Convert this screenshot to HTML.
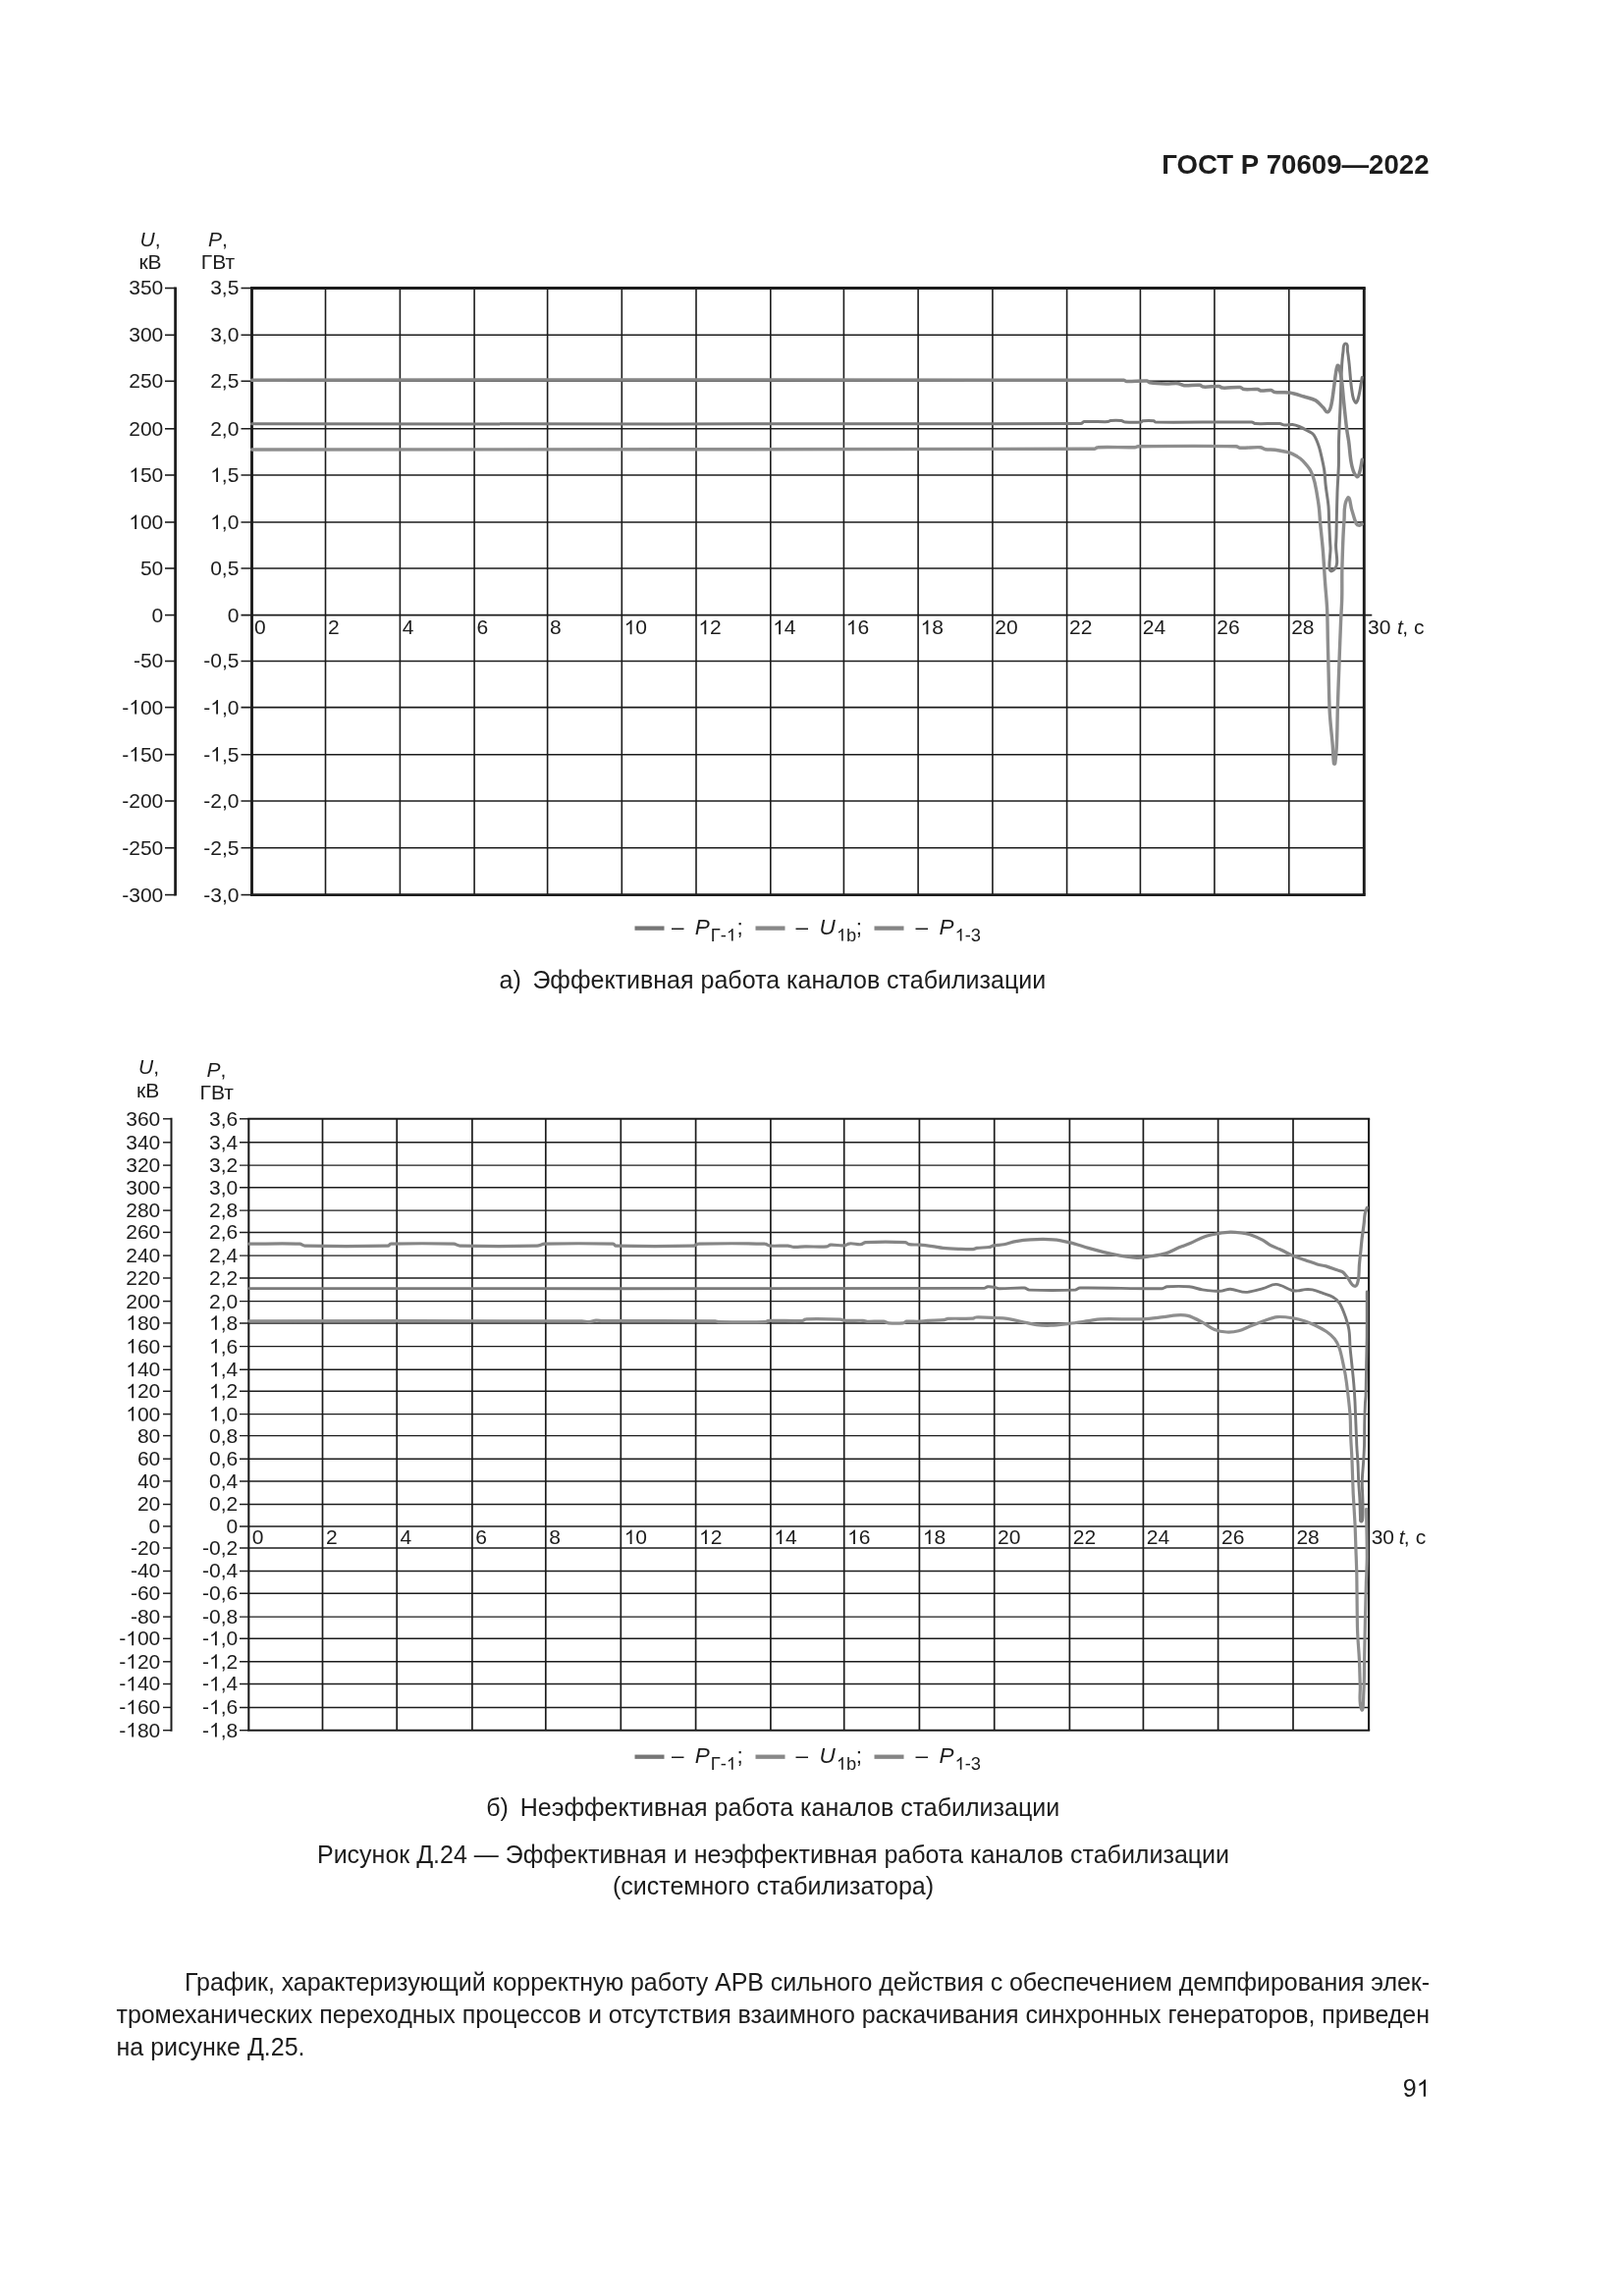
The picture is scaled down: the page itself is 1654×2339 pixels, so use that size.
<!DOCTYPE html>
<html><head><meta charset="utf-8"><title>ГОСТ Р 70609—2022</title>
<style>
html,body{margin:0;padding:0;background:#fff;}
body{width:1654px;height:2339px;overflow:hidden;}
svg{display:block;}
text{font-family:"Liberation Sans", sans-serif;fill:#1c1c1c;}
</style></head><body>
<svg width="1654" height="2339" viewBox="0 0 1654 2339">
<rect width="1654" height="2339" fill="#fff"/>
<line x1="245.50" y1="341.30" x2="1389.30" y2="341.30" stroke="#1c1c1c" stroke-width="1.6" stroke-linecap="butt"/>
<line x1="245.50" y1="388.30" x2="1389.30" y2="388.30" stroke="#1c1c1c" stroke-width="1.6" stroke-linecap="butt"/>
<line x1="245.50" y1="436.80" x2="1389.30" y2="436.80" stroke="#1c1c1c" stroke-width="1.6" stroke-linecap="butt"/>
<line x1="245.50" y1="484.00" x2="1389.30" y2="484.00" stroke="#1c1c1c" stroke-width="1.6" stroke-linecap="butt"/>
<line x1="245.50" y1="532.00" x2="1389.30" y2="532.00" stroke="#1c1c1c" stroke-width="1.6" stroke-linecap="butt"/>
<line x1="245.50" y1="579.00" x2="1389.30" y2="579.00" stroke="#1c1c1c" stroke-width="1.6" stroke-linecap="butt"/>
<line x1="245.50" y1="626.60" x2="1397.30" y2="626.60" stroke="#1c1c1c" stroke-width="1.6" stroke-linecap="butt"/>
<line x1="245.50" y1="673.50" x2="1389.30" y2="673.50" stroke="#1c1c1c" stroke-width="1.6" stroke-linecap="butt"/>
<line x1="245.50" y1="720.60" x2="1389.30" y2="720.60" stroke="#1c1c1c" stroke-width="1.6" stroke-linecap="butt"/>
<line x1="245.50" y1="768.70" x2="1389.30" y2="768.70" stroke="#1c1c1c" stroke-width="1.6" stroke-linecap="butt"/>
<line x1="245.50" y1="816.00" x2="1389.30" y2="816.00" stroke="#1c1c1c" stroke-width="1.6" stroke-linecap="butt"/>
<line x1="245.50" y1="863.80" x2="1389.30" y2="863.80" stroke="#1c1c1c" stroke-width="1.6" stroke-linecap="butt"/>
<line x1="245.50" y1="293.50" x2="256.50" y2="293.50" stroke="#1c1c1c" stroke-width="1.6" stroke-linecap="butt"/>
<line x1="245.50" y1="911.60" x2="256.50" y2="911.60" stroke="#1c1c1c" stroke-width="1.6" stroke-linecap="butt"/>
<line x1="331.50" y1="293.50" x2="331.50" y2="911.60" stroke="#1c1c1c" stroke-width="1.6" stroke-linecap="butt"/>
<line x1="407.40" y1="293.50" x2="407.40" y2="911.60" stroke="#1c1c1c" stroke-width="1.6" stroke-linecap="butt"/>
<line x1="483.10" y1="293.50" x2="483.10" y2="911.60" stroke="#1c1c1c" stroke-width="1.6" stroke-linecap="butt"/>
<line x1="557.60" y1="293.50" x2="557.60" y2="911.60" stroke="#1c1c1c" stroke-width="1.6" stroke-linecap="butt"/>
<line x1="633.30" y1="293.50" x2="633.30" y2="911.60" stroke="#1c1c1c" stroke-width="1.6" stroke-linecap="butt"/>
<line x1="709.00" y1="293.50" x2="709.00" y2="911.60" stroke="#1c1c1c" stroke-width="1.6" stroke-linecap="butt"/>
<line x1="784.80" y1="293.50" x2="784.80" y2="911.60" stroke="#1c1c1c" stroke-width="1.6" stroke-linecap="butt"/>
<line x1="859.40" y1="293.50" x2="859.40" y2="911.60" stroke="#1c1c1c" stroke-width="1.6" stroke-linecap="butt"/>
<line x1="935.10" y1="293.50" x2="935.10" y2="911.60" stroke="#1c1c1c" stroke-width="1.6" stroke-linecap="butt"/>
<line x1="1010.90" y1="293.50" x2="1010.90" y2="911.60" stroke="#1c1c1c" stroke-width="1.6" stroke-linecap="butt"/>
<line x1="1086.60" y1="293.50" x2="1086.60" y2="911.60" stroke="#1c1c1c" stroke-width="1.6" stroke-linecap="butt"/>
<line x1="1161.40" y1="293.50" x2="1161.40" y2="911.60" stroke="#1c1c1c" stroke-width="1.6" stroke-linecap="butt"/>
<line x1="1236.90" y1="293.50" x2="1236.90" y2="911.60" stroke="#1c1c1c" stroke-width="1.6" stroke-linecap="butt"/>
<line x1="1312.80" y1="293.50" x2="1312.80" y2="911.60" stroke="#1c1c1c" stroke-width="1.6" stroke-linecap="butt"/>
<line x1="255.05" y1="293.50" x2="1390.75" y2="293.50" stroke="#1c1c1c" stroke-width="2.9" stroke-linecap="butt"/>
<line x1="255.05" y1="911.60" x2="1390.75" y2="911.60" stroke="#1c1c1c" stroke-width="2.9" stroke-linecap="butt"/>
<line x1="256.50" y1="293.50" x2="256.50" y2="911.60" stroke="#1c1c1c" stroke-width="2.9" stroke-linecap="butt"/>
<line x1="1389.30" y1="293.50" x2="1389.30" y2="911.60" stroke="#1c1c1c" stroke-width="2.9" stroke-linecap="butt"/>
<line x1="178.60" y1="292.50" x2="178.60" y2="912.60" stroke="#1c1c1c" stroke-width="2.755" stroke-linecap="butt"/>
<line x1="168.00" y1="293.50" x2="178.60" y2="293.50" stroke="#1c1c1c" stroke-width="1.6" stroke-linecap="butt"/>
<line x1="168.00" y1="341.30" x2="178.60" y2="341.30" stroke="#1c1c1c" stroke-width="1.6" stroke-linecap="butt"/>
<line x1="168.00" y1="388.30" x2="178.60" y2="388.30" stroke="#1c1c1c" stroke-width="1.6" stroke-linecap="butt"/>
<line x1="168.00" y1="436.80" x2="178.60" y2="436.80" stroke="#1c1c1c" stroke-width="1.6" stroke-linecap="butt"/>
<line x1="168.00" y1="484.00" x2="178.60" y2="484.00" stroke="#1c1c1c" stroke-width="1.6" stroke-linecap="butt"/>
<line x1="168.00" y1="532.00" x2="178.60" y2="532.00" stroke="#1c1c1c" stroke-width="1.6" stroke-linecap="butt"/>
<line x1="168.00" y1="579.00" x2="178.60" y2="579.00" stroke="#1c1c1c" stroke-width="1.6" stroke-linecap="butt"/>
<line x1="168.00" y1="626.60" x2="178.60" y2="626.60" stroke="#1c1c1c" stroke-width="1.6" stroke-linecap="butt"/>
<line x1="168.00" y1="673.50" x2="178.60" y2="673.50" stroke="#1c1c1c" stroke-width="1.6" stroke-linecap="butt"/>
<line x1="168.00" y1="720.60" x2="178.60" y2="720.60" stroke="#1c1c1c" stroke-width="1.6" stroke-linecap="butt"/>
<line x1="168.00" y1="768.70" x2="178.60" y2="768.70" stroke="#1c1c1c" stroke-width="1.6" stroke-linecap="butt"/>
<line x1="168.00" y1="816.00" x2="178.60" y2="816.00" stroke="#1c1c1c" stroke-width="1.6" stroke-linecap="butt"/>
<line x1="168.00" y1="863.80" x2="178.60" y2="863.80" stroke="#1c1c1c" stroke-width="1.6" stroke-linecap="butt"/>
<line x1="168.00" y1="911.60" x2="178.60" y2="911.60" stroke="#1c1c1c" stroke-width="1.6" stroke-linecap="butt"/>
<line x1="244.00" y1="1163.80" x2="1394.10" y2="1163.80" stroke="#1c1c1c" stroke-width="1.45" stroke-linecap="butt"/>
<line x1="244.00" y1="1187.10" x2="1394.10" y2="1187.10" stroke="#1c1c1c" stroke-width="1.45" stroke-linecap="butt"/>
<line x1="244.00" y1="1209.80" x2="1394.10" y2="1209.80" stroke="#1c1c1c" stroke-width="1.45" stroke-linecap="butt"/>
<line x1="244.00" y1="1233.10" x2="1394.10" y2="1233.10" stroke="#1c1c1c" stroke-width="1.45" stroke-linecap="butt"/>
<line x1="244.00" y1="1255.40" x2="1394.10" y2="1255.40" stroke="#1c1c1c" stroke-width="1.45" stroke-linecap="butt"/>
<line x1="244.00" y1="1279.10" x2="1394.10" y2="1279.10" stroke="#1c1c1c" stroke-width="1.45" stroke-linecap="butt"/>
<line x1="244.00" y1="1302.00" x2="1394.10" y2="1302.00" stroke="#1c1c1c" stroke-width="1.45" stroke-linecap="butt"/>
<line x1="244.00" y1="1325.60" x2="1394.10" y2="1325.60" stroke="#1c1c1c" stroke-width="1.45" stroke-linecap="butt"/>
<line x1="244.00" y1="1347.90" x2="1394.10" y2="1347.90" stroke="#1c1c1c" stroke-width="1.45" stroke-linecap="butt"/>
<line x1="244.00" y1="1371.60" x2="1394.10" y2="1371.60" stroke="#1c1c1c" stroke-width="1.45" stroke-linecap="butt"/>
<line x1="244.00" y1="1395.30" x2="1394.10" y2="1395.30" stroke="#1c1c1c" stroke-width="1.45" stroke-linecap="butt"/>
<line x1="244.00" y1="1417.30" x2="1394.10" y2="1417.30" stroke="#1c1c1c" stroke-width="1.45" stroke-linecap="butt"/>
<line x1="244.00" y1="1440.60" x2="1394.10" y2="1440.60" stroke="#1c1c1c" stroke-width="1.45" stroke-linecap="butt"/>
<line x1="244.00" y1="1462.60" x2="1394.10" y2="1462.60" stroke="#1c1c1c" stroke-width="1.45" stroke-linecap="butt"/>
<line x1="244.00" y1="1486.20" x2="1394.10" y2="1486.20" stroke="#1c1c1c" stroke-width="1.45" stroke-linecap="butt"/>
<line x1="244.00" y1="1508.90" x2="1394.10" y2="1508.90" stroke="#1c1c1c" stroke-width="1.45" stroke-linecap="butt"/>
<line x1="244.00" y1="1532.50" x2="1394.10" y2="1532.50" stroke="#1c1c1c" stroke-width="1.45" stroke-linecap="butt"/>
<line x1="244.00" y1="1554.90" x2="1394.10" y2="1554.90" stroke="#1c1c1c" stroke-width="1.45" stroke-linecap="butt"/>
<line x1="244.00" y1="1577.00" x2="1394.10" y2="1577.00" stroke="#1c1c1c" stroke-width="1.45" stroke-linecap="butt"/>
<line x1="244.00" y1="1600.50" x2="1394.10" y2="1600.50" stroke="#1c1c1c" stroke-width="1.45" stroke-linecap="butt"/>
<line x1="244.00" y1="1623.20" x2="1394.10" y2="1623.20" stroke="#1c1c1c" stroke-width="1.45" stroke-linecap="butt"/>
<line x1="244.00" y1="1647.10" x2="1394.10" y2="1647.10" stroke="#1c1c1c" stroke-width="1.45" stroke-linecap="butt"/>
<line x1="244.00" y1="1669.30" x2="1394.10" y2="1669.30" stroke="#1c1c1c" stroke-width="1.45" stroke-linecap="butt"/>
<line x1="244.00" y1="1692.80" x2="1394.10" y2="1692.80" stroke="#1c1c1c" stroke-width="1.45" stroke-linecap="butt"/>
<line x1="244.00" y1="1715.50" x2="1394.10" y2="1715.50" stroke="#1c1c1c" stroke-width="1.45" stroke-linecap="butt"/>
<line x1="244.00" y1="1739.40" x2="1394.10" y2="1739.40" stroke="#1c1c1c" stroke-width="1.45" stroke-linecap="butt"/>
<line x1="244.00" y1="1139.80" x2="253.30" y2="1139.80" stroke="#1c1c1c" stroke-width="1.45" stroke-linecap="butt"/>
<line x1="244.00" y1="1762.70" x2="253.30" y2="1762.70" stroke="#1c1c1c" stroke-width="1.45" stroke-linecap="butt"/>
<line x1="328.50" y1="1139.80" x2="328.50" y2="1762.70" stroke="#1c1c1c" stroke-width="1.7" stroke-linecap="butt"/>
<line x1="404.20" y1="1139.80" x2="404.20" y2="1762.70" stroke="#1c1c1c" stroke-width="1.7" stroke-linecap="butt"/>
<line x1="480.90" y1="1139.80" x2="480.90" y2="1762.70" stroke="#1c1c1c" stroke-width="1.7" stroke-linecap="butt"/>
<line x1="555.80" y1="1139.80" x2="555.80" y2="1762.70" stroke="#1c1c1c" stroke-width="1.7" stroke-linecap="butt"/>
<line x1="632.30" y1="1139.80" x2="632.30" y2="1762.70" stroke="#1c1c1c" stroke-width="1.7" stroke-linecap="butt"/>
<line x1="708.60" y1="1139.80" x2="708.60" y2="1762.70" stroke="#1c1c1c" stroke-width="1.7" stroke-linecap="butt"/>
<line x1="784.90" y1="1139.80" x2="784.90" y2="1762.70" stroke="#1c1c1c" stroke-width="1.7" stroke-linecap="butt"/>
<line x1="859.70" y1="1139.80" x2="859.70" y2="1762.70" stroke="#1c1c1c" stroke-width="1.7" stroke-linecap="butt"/>
<line x1="936.40" y1="1139.80" x2="936.40" y2="1762.70" stroke="#1c1c1c" stroke-width="1.7" stroke-linecap="butt"/>
<line x1="1012.70" y1="1139.80" x2="1012.70" y2="1762.70" stroke="#1c1c1c" stroke-width="1.7" stroke-linecap="butt"/>
<line x1="1089.40" y1="1139.80" x2="1089.40" y2="1762.70" stroke="#1c1c1c" stroke-width="1.7" stroke-linecap="butt"/>
<line x1="1164.40" y1="1139.80" x2="1164.40" y2="1762.70" stroke="#1c1c1c" stroke-width="1.7" stroke-linecap="butt"/>
<line x1="1240.60" y1="1139.80" x2="1240.60" y2="1762.70" stroke="#1c1c1c" stroke-width="1.7" stroke-linecap="butt"/>
<line x1="1317.00" y1="1139.80" x2="1317.00" y2="1762.70" stroke="#1c1c1c" stroke-width="1.7" stroke-linecap="butt"/>
<line x1="252.25" y1="1139.80" x2="1395.15" y2="1139.80" stroke="#1c1c1c" stroke-width="2.1" stroke-linecap="butt"/>
<line x1="252.25" y1="1762.70" x2="1395.15" y2="1762.70" stroke="#1c1c1c" stroke-width="2.1" stroke-linecap="butt"/>
<line x1="253.30" y1="1139.80" x2="253.30" y2="1762.70" stroke="#1c1c1c" stroke-width="2.1" stroke-linecap="butt"/>
<line x1="1394.10" y1="1139.80" x2="1394.10" y2="1762.70" stroke="#1c1c1c" stroke-width="2.1" stroke-linecap="butt"/>
<line x1="174.50" y1="1138.80" x2="174.50" y2="1763.70" stroke="#1c1c1c" stroke-width="1.9949999999999999" stroke-linecap="butt"/>
<line x1="166.00" y1="1139.80" x2="174.50" y2="1139.80" stroke="#1c1c1c" stroke-width="1.45" stroke-linecap="butt"/>
<line x1="166.00" y1="1163.80" x2="174.50" y2="1163.80" stroke="#1c1c1c" stroke-width="1.45" stroke-linecap="butt"/>
<line x1="166.00" y1="1187.10" x2="174.50" y2="1187.10" stroke="#1c1c1c" stroke-width="1.45" stroke-linecap="butt"/>
<line x1="166.00" y1="1209.80" x2="174.50" y2="1209.80" stroke="#1c1c1c" stroke-width="1.45" stroke-linecap="butt"/>
<line x1="166.00" y1="1233.10" x2="174.50" y2="1233.10" stroke="#1c1c1c" stroke-width="1.45" stroke-linecap="butt"/>
<line x1="166.00" y1="1255.40" x2="174.50" y2="1255.40" stroke="#1c1c1c" stroke-width="1.45" stroke-linecap="butt"/>
<line x1="166.00" y1="1279.10" x2="174.50" y2="1279.10" stroke="#1c1c1c" stroke-width="1.45" stroke-linecap="butt"/>
<line x1="166.00" y1="1302.00" x2="174.50" y2="1302.00" stroke="#1c1c1c" stroke-width="1.45" stroke-linecap="butt"/>
<line x1="166.00" y1="1325.60" x2="174.50" y2="1325.60" stroke="#1c1c1c" stroke-width="1.45" stroke-linecap="butt"/>
<line x1="166.00" y1="1347.90" x2="174.50" y2="1347.90" stroke="#1c1c1c" stroke-width="1.45" stroke-linecap="butt"/>
<line x1="166.00" y1="1371.60" x2="174.50" y2="1371.60" stroke="#1c1c1c" stroke-width="1.45" stroke-linecap="butt"/>
<line x1="166.00" y1="1395.30" x2="174.50" y2="1395.30" stroke="#1c1c1c" stroke-width="1.45" stroke-linecap="butt"/>
<line x1="166.00" y1="1417.30" x2="174.50" y2="1417.30" stroke="#1c1c1c" stroke-width="1.45" stroke-linecap="butt"/>
<line x1="166.00" y1="1440.60" x2="174.50" y2="1440.60" stroke="#1c1c1c" stroke-width="1.45" stroke-linecap="butt"/>
<line x1="166.00" y1="1462.60" x2="174.50" y2="1462.60" stroke="#1c1c1c" stroke-width="1.45" stroke-linecap="butt"/>
<line x1="166.00" y1="1486.20" x2="174.50" y2="1486.20" stroke="#1c1c1c" stroke-width="1.45" stroke-linecap="butt"/>
<line x1="166.00" y1="1508.90" x2="174.50" y2="1508.90" stroke="#1c1c1c" stroke-width="1.45" stroke-linecap="butt"/>
<line x1="166.00" y1="1532.50" x2="174.50" y2="1532.50" stroke="#1c1c1c" stroke-width="1.45" stroke-linecap="butt"/>
<line x1="166.00" y1="1554.90" x2="174.50" y2="1554.90" stroke="#1c1c1c" stroke-width="1.45" stroke-linecap="butt"/>
<line x1="166.00" y1="1577.00" x2="174.50" y2="1577.00" stroke="#1c1c1c" stroke-width="1.45" stroke-linecap="butt"/>
<line x1="166.00" y1="1600.50" x2="174.50" y2="1600.50" stroke="#1c1c1c" stroke-width="1.45" stroke-linecap="butt"/>
<line x1="166.00" y1="1623.20" x2="174.50" y2="1623.20" stroke="#1c1c1c" stroke-width="1.45" stroke-linecap="butt"/>
<line x1="166.00" y1="1647.10" x2="174.50" y2="1647.10" stroke="#1c1c1c" stroke-width="1.45" stroke-linecap="butt"/>
<line x1="166.00" y1="1669.30" x2="174.50" y2="1669.30" stroke="#1c1c1c" stroke-width="1.45" stroke-linecap="butt"/>
<line x1="166.00" y1="1692.80" x2="174.50" y2="1692.80" stroke="#1c1c1c" stroke-width="1.45" stroke-linecap="butt"/>
<line x1="166.00" y1="1715.50" x2="174.50" y2="1715.50" stroke="#1c1c1c" stroke-width="1.45" stroke-linecap="butt"/>
<line x1="166.00" y1="1739.40" x2="174.50" y2="1739.40" stroke="#1c1c1c" stroke-width="1.45" stroke-linecap="butt"/>
<line x1="166.00" y1="1762.70" x2="174.50" y2="1762.70" stroke="#1c1c1c" stroke-width="1.45" stroke-linecap="butt"/>
<path d="M256.5,458.0 C539.8,457.7 831.7,458.0 1115.0,457.2 C1116.1,457.2 1116.9,455.7 1118.0,455.7 C1130.5,455.2 1143.5,456.0 1156.0,455.7 C1157.0,455.7 1158.0,454.7 1159.0,454.7 C1192.0,454.4 1226.1,454.2 1259.1,454.7 C1260.5,454.7 1261.6,456.1 1263.0,456.2 C1269.8,456.5 1276.9,455.3 1283.7,455.7 C1285.5,455.8 1286.9,457.4 1288.7,457.7 C1291.9,458.2 1295.3,457.8 1298.5,458.2 C1303.4,458.9 1308.5,459.7 1313.3,461.1 C1316.1,461.9 1318.7,463.6 1321.2,465.1 C1323.1,466.2 1325.0,467.5 1326.5,469.1 C1329.5,472.3 1332.7,475.7 1334.8,479.5 C1336.8,483.1 1338.1,487.3 1339.0,491.4 C1340.8,499.3 1342.1,507.6 1343.2,515.7 C1344.0,521.2 1344.1,527.0 1344.6,532.5 C1345.5,541.9 1346.6,551.6 1347.4,561.0 C1348.2,571.4 1348.8,582.0 1349.5,592.4 C1350.1,601.5 1351.2,610.9 1351.6,620.0 C1352.1,630.4 1352.1,641.0 1352.3,651.4 C1352.6,662.3 1352.8,673.5 1353.1,684.4 C1353.5,698.1 1353.5,712.2 1354.3,725.8 C1354.9,736.7 1356.3,748.0 1357.2,758.9 C1357.7,765.2 1357.7,771.7 1358.5,777.9 C1358.6,778.3 1359.6,778.3 1359.7,777.9 C1360.6,771.7 1361.1,765.2 1361.4,758.9 C1362.0,746.1 1362.0,732.8 1362.4,720.0 C1362.8,706.8 1363.3,693.2 1363.8,680.0 C1364.3,665.1 1364.9,649.8 1365.5,635.0 C1365.8,626.7 1366.5,618.3 1366.7,610.0 C1367.0,599.6 1366.6,588.9 1366.9,578.5 C1367.4,562.4 1367.7,545.8 1369.0,529.7 C1369.6,522.3 1368.1,513.4 1372.5,507.4 C1374.9,504.1 1375.4,515.3 1376.7,519.2 C1378.3,524.0 1379.3,529.3 1381.5,533.9 C1381.9,534.8 1383.3,535.3 1384.3,535.3 C1385.3,535.3 1386.2,534.4 1387.1,533.9" fill="none" stroke="#8e8e8e" stroke-width="3.4" stroke-linejoin="round" stroke-linecap="round"/>
<path d="M256.5,431.8 C535.2,431.7 822.3,432.3 1101.0,431.6 C1102.2,431.6 1102.8,429.7 1104.0,429.6 C1112.1,429.0 1120.6,429.9 1128.7,429.6 C1129.5,429.6 1130.2,428.7 1131.0,428.6 C1134.6,428.3 1138.4,428.3 1142.0,428.6 C1143.4,428.7 1144.6,429.9 1146.0,430.0 C1151.3,430.4 1156.7,430.4 1162.0,430.0 C1162.8,429.9 1163.2,428.9 1164.0,428.8 C1167.6,428.5 1171.4,428.4 1175.0,428.8 C1175.8,428.9 1176.2,430.1 1177.0,430.1 C1209.3,430.5 1242.6,429.6 1274.9,430.1 C1276.3,430.1 1277.4,431.5 1278.8,431.6 C1286.9,432.0 1295.3,431.2 1303.4,431.6 C1305.1,431.7 1306.7,433.0 1308.4,433.1 C1311.0,433.3 1313.7,432.4 1316.3,432.6 C1318.7,432.8 1321.0,433.6 1323.2,434.5 C1326.2,435.7 1329.2,437.4 1332.0,439.0 C1334.0,440.2 1336.5,441.0 1337.9,442.9 C1340.2,446.1 1341.6,450.0 1342.9,453.7 C1344.2,457.2 1345.0,461.0 1345.8,464.6 C1346.9,469.5 1348.1,474.5 1348.8,479.5 C1349.5,484.5 1349.6,489.8 1350.2,494.8 C1351.0,501.7 1352.4,508.8 1353.0,515.7 C1353.5,521.2 1353.4,527.0 1353.7,532.5 C1354.1,540.8 1354.4,549.3 1355.0,557.6 C1355.6,565.4 1350.8,585.5 1357.5,581.3 C1365.2,576.5 1359.9,563.1 1360.6,554.1 C1361.2,546.1 1361.1,537.8 1361.3,529.7 C1361.5,520.5 1361.7,511.0 1362.0,501.8 C1362.3,492.6 1363.1,483.1 1363.4,473.9 C1363.6,466.0 1363.3,457.9 1363.5,450.0 C1363.9,436.1 1364.8,421.9 1365.3,408.0 C1365.7,397.6 1365.8,387.0 1366.4,376.6 C1366.7,370.4 1367.1,364.1 1368.0,358.0 C1368.4,355.2 1367.7,349.9 1370.5,349.9 C1373.3,349.9 1372.0,355.3 1372.5,358.0 C1373.3,362.4 1373.7,367.0 1374.2,371.4 C1375.1,380.0 1375.4,389.0 1376.8,397.5 C1377.5,401.7 1377.6,406.8 1380.5,410.0 C1381.8,411.4 1383.0,406.9 1383.5,405.0 C1385.3,398.3 1386.0,391.2 1387.3,384.4" fill="none" stroke="#7a7a7a" stroke-width="3.0" stroke-linejoin="round" stroke-linecap="round"/>
<path d="M256.5,387.2 C549.5,387.2 851.4,386.8 1144.4,387.2 C1145.5,387.2 1146.3,388.5 1147.4,388.5 C1154.2,388.7 1161.2,387.7 1168.0,388.0 C1169.1,388.1 1169.9,389.5 1171.0,389.7 C1176.5,390.5 1182.2,390.8 1187.8,391.0 C1191.8,391.1 1196.0,390.3 1200.0,390.7 C1202.0,390.9 1203.8,392.6 1205.9,392.7 C1211.1,393.1 1216.5,391.8 1221.7,392.2 C1223.1,392.3 1224.2,394.0 1225.6,394.1 C1230.8,394.5 1236.2,393.3 1241.4,393.6 C1242.8,393.7 1243.9,395.0 1245.3,395.1 C1251.1,395.4 1257.2,394.2 1263.0,394.6 C1264.5,394.7 1265.5,396.4 1267.0,396.6 C1271.5,397.1 1276.3,396.2 1280.8,396.6 C1282.2,396.7 1283.3,398.0 1284.7,398.1 C1288.0,398.3 1291.3,397.2 1294.6,397.6 C1296.0,397.8 1297.1,399.4 1298.5,399.6 C1303.3,400.2 1308.5,399.3 1313.3,400.0 C1318.3,400.7 1323.3,402.6 1328.1,404.0 C1332.0,405.2 1336.3,405.9 1339.9,407.9 C1343.0,409.7 1345.2,412.8 1347.8,415.3 C1349.3,416.7 1350.2,420.3 1352.2,419.8 C1354.6,419.2 1355.1,415.7 1355.7,413.3 C1357.2,407.2 1357.7,400.8 1358.6,394.6 C1359.3,389.8 1359.7,384.8 1360.5,380.0 C1360.9,377.5 1361.2,374.8 1362.2,372.4 C1362.4,372.0 1363.4,372.5 1363.5,373.0 C1364.8,377.5 1365.7,382.3 1366.4,387.0 C1367.4,393.9 1367.8,401.1 1368.5,408.0 C1369.5,417.5 1370.4,427.2 1371.6,436.7 C1372.1,441.1 1373.1,445.6 1373.7,450.0 C1374.8,457.9 1374.9,466.2 1376.7,473.9 C1377.7,478.0 1378.6,483.0 1382.0,485.5 C1383.7,486.7 1384.4,482.0 1385.0,480.0 C1386.2,476.2 1386.5,472.2 1387.3,468.3" fill="none" stroke="#858585" stroke-width="3.5" stroke-linejoin="round" stroke-linecap="round"/>
<path d="M253.7,1345.8 C365.6,1345.8 480.8,1345.5 592.7,1345.8 C595.1,1345.8 597.6,1346.7 600.0,1346.6 C602.4,1346.5 604.7,1345.4 607.0,1345.2 C609.2,1345.0 611.4,1345.6 613.6,1345.6 C651.5,1345.8 690.6,1345.4 728.5,1345.8 C729.8,1345.8 730.9,1346.7 732.2,1346.7 C747.6,1347.0 763.6,1347.1 779.0,1346.7 C780.3,1346.7 781.4,1345.4 782.7,1345.4 C794.1,1345.0 805.8,1345.9 817.2,1345.4 C818.5,1345.3 819.6,1343.8 820.9,1343.8 C832.4,1343.4 844.2,1343.7 855.7,1344.1 C857.4,1344.2 858.9,1345.2 860.6,1345.3 C866.7,1345.6 873.0,1345.1 879.1,1345.3 C880.4,1345.4 881.5,1346.1 882.8,1346.2 C888.5,1346.4 894.3,1345.8 900.0,1346.2 C901.7,1346.3 903.3,1347.7 905.0,1347.8 C909.9,1348.2 914.9,1348.2 919.8,1347.8 C921.1,1347.7 922.1,1346.3 923.4,1346.2 C927.5,1345.8 931.7,1346.4 935.8,1346.2 C938.7,1346.1 941.6,1345.5 944.4,1345.3 C950.1,1345.0 955.9,1345.2 961.6,1344.7 C962.9,1344.6 964.0,1343.5 965.3,1343.4 C973.8,1343.0 982.7,1343.6 991.2,1343.2 C992.1,1343.2 992.7,1342.0 993.6,1342.0 C999.7,1341.8 1006.0,1342.2 1012.1,1342.5 C1016.7,1342.7 1021.4,1342.8 1026.0,1343.4 C1030.9,1344.1 1035.9,1345.5 1040.8,1346.5 C1045.7,1347.5 1050.6,1349.0 1055.6,1349.6 C1060.4,1350.2 1065.4,1350.4 1070.3,1350.2 C1076.4,1350.0 1082.7,1349.1 1088.8,1348.4 C1095.3,1347.6 1102.0,1346.6 1108.5,1345.7 C1112.6,1345.1 1116.7,1343.9 1120.8,1343.8 C1135.0,1343.3 1149.7,1344.3 1163.9,1343.8 C1170.9,1343.6 1178.0,1342.4 1184.9,1341.6 C1189.4,1341.1 1193.9,1340.0 1198.4,1339.8 C1202.2,1339.6 1206.2,1339.4 1209.9,1340.4 C1215.0,1341.8 1219.9,1344.6 1224.6,1347.1 C1228.8,1349.3 1232.5,1352.7 1236.9,1354.5 C1240.8,1356.1 1245.1,1356.8 1249.3,1357.0 C1253.4,1357.2 1257.6,1356.8 1261.6,1355.8 C1265.8,1354.7 1269.8,1352.4 1273.9,1350.8 C1278.0,1349.2 1282.1,1347.3 1286.2,1345.9 C1291.0,1344.3 1295.9,1342.1 1301.0,1341.6 C1306.3,1341.1 1311.8,1342.0 1317.0,1342.8 C1321.1,1343.4 1325.3,1344.6 1329.3,1345.9 C1332.6,1347.0 1336.0,1348.5 1339.1,1350.0 C1343.2,1352.0 1347.5,1354.1 1351.3,1356.7 C1354.2,1358.7 1357.1,1361.2 1359.3,1364.0 C1361.4,1366.7 1363.0,1370.0 1364.1,1373.2 C1365.8,1378.1 1366.7,1383.4 1367.8,1388.4 C1368.7,1392.4 1369.5,1396.5 1370.2,1400.6 C1371.2,1406.6 1372.0,1412.8 1372.7,1418.9 C1373.6,1426.6 1374.6,1434.5 1375.1,1442.2 C1375.6,1449.2 1375.4,1456.5 1375.7,1463.5 C1376.0,1471.6 1376.7,1479.8 1377.0,1487.9 C1377.5,1499.0 1377.7,1510.4 1378.2,1521.5 C1378.7,1531.6 1379.5,1541.9 1380.0,1552.0 C1380.4,1560.4 1380.6,1569.0 1380.9,1577.4 C1381.2,1586.0 1381.6,1595.0 1381.8,1603.6 C1382.0,1615.1 1382.0,1626.9 1382.2,1638.4 C1382.3,1647.0 1382.3,1655.9 1382.7,1664.5 C1383.1,1673.2 1384.0,1682.0 1384.4,1690.7 C1384.8,1699.3 1384.9,1708.2 1385.3,1716.8 C1385.7,1724.9 1383.6,1733.7 1386.6,1741.2 C1388.6,1746.1 1388.5,1730.7 1388.8,1725.5 C1389.5,1714.0 1389.4,1702.2 1389.6,1690.7 C1389.9,1676.3 1390.2,1661.5 1390.5,1647.1 C1390.8,1635.6 1391.1,1623.8 1391.4,1612.3 C1391.7,1603.7 1392.3,1594.8 1392.3,1586.1 C1392.3,1570.0 1391.8,1553.4 1391.6,1537.3" fill="none" stroke="#8e8e8e" stroke-width="3.2" stroke-linejoin="round" stroke-linecap="round"/>
<path d="M253.7,1312.6 C500.7,1312.5 755.3,1313.0 1002.3,1312.4 C1003.6,1312.4 1004.7,1311.0 1006.0,1310.8 C1008.0,1310.6 1010.1,1310.9 1012.1,1311.2 C1013.9,1311.5 1015.6,1312.7 1017.4,1312.7 C1025.9,1312.9 1034.8,1311.6 1043.3,1312.0 C1045.1,1312.1 1046.4,1314.0 1048.2,1314.1 C1063.6,1314.7 1079.6,1314.7 1095.0,1314.1 C1096.8,1314.0 1098.1,1312.0 1099.9,1312.0 C1127.5,1311.6 1156.0,1313.1 1183.6,1312.7 C1185.4,1312.7 1186.8,1310.9 1188.6,1310.8 C1196.0,1310.3 1203.7,1310.2 1211.1,1310.8 C1215.7,1311.2 1220.1,1313.1 1224.6,1313.9 C1228.2,1314.5 1232.0,1314.9 1235.7,1315.1 C1238.5,1315.3 1241.5,1315.4 1244.3,1315.1 C1247.2,1314.8 1250.1,1313.1 1253.0,1313.3 C1258.4,1313.6 1263.6,1316.5 1269.0,1316.4 C1274.8,1316.3 1280.6,1314.2 1286.2,1312.7 C1290.8,1311.5 1295.1,1308.1 1299.8,1308.4 C1305.4,1308.7 1310.4,1312.9 1315.8,1314.5 C1317.7,1315.1 1319.9,1315.0 1321.9,1314.9 C1324.4,1314.7 1326.8,1313.8 1329.3,1313.6 C1331.7,1313.4 1334.3,1313.4 1336.7,1313.9 C1340.5,1314.7 1344.2,1316.3 1347.8,1317.6 C1351.0,1318.7 1354.5,1319.6 1357.4,1321.3 C1360.0,1322.8 1362.4,1324.9 1364.1,1327.4 C1366.5,1331.1 1368.1,1335.4 1369.6,1339.6 C1371.4,1344.5 1373.1,1349.7 1373.9,1354.9 C1374.9,1360.9 1374.6,1367.2 1375.1,1373.2 C1375.6,1379.2 1376.4,1385.5 1377.0,1391.5 C1377.6,1397.5 1378.3,1403.8 1378.8,1409.8 C1379.3,1415.8 1379.7,1422.0 1380.0,1428.0 C1380.7,1442.7 1381.1,1458.0 1381.8,1472.7 C1382.1,1478.7 1382.7,1485.0 1383.0,1491.0 C1383.3,1497.0 1383.4,1503.3 1383.7,1509.3 C1384.0,1515.3 1384.6,1521.6 1384.9,1527.6 C1385.2,1533.6 1385.1,1539.9 1385.5,1545.9 C1385.6,1547.3 1385.0,1550.1 1386.4,1550.1 C1387.9,1550.1 1387.8,1547.4 1387.9,1545.9 C1388.3,1539.9 1388.0,1533.6 1387.9,1527.6 C1387.8,1521.6 1387.2,1515.3 1387.3,1509.3 C1387.4,1503.2 1388.1,1497.0 1388.5,1491.0 C1388.9,1485.0 1389.3,1478.7 1389.5,1472.7 C1389.7,1464.7 1389.6,1456.4 1389.8,1448.3 C1389.9,1442.3 1390.1,1436.0 1390.4,1430.0 C1390.5,1427.4 1390.9,1424.6 1391.0,1422.0 C1391.3,1411.9 1391.4,1401.6 1391.6,1391.5 C1391.8,1381.4 1392.1,1371.1 1392.2,1361.0 C1392.3,1346.1 1392.2,1330.8 1392.2,1315.9" fill="none" stroke="#7a7a7a" stroke-width="2.9" stroke-linejoin="round" stroke-linecap="round"/>
<path d="M253.7,1267.2 C270.8,1267.2 288.3,1266.6 305.4,1267.2 C307.1,1267.3 308.6,1269.1 310.3,1269.1 C338.3,1269.7 367.3,1269.7 395.3,1269.1 C396.3,1269.1 396.8,1267.2 397.8,1267.2 C419.0,1266.6 441.0,1266.6 462.2,1267.2 C464.3,1267.3 466.2,1269.1 468.3,1269.1 C494.3,1269.7 521.1,1269.7 547.1,1269.1 C549.6,1269.0 552.0,1267.3 554.5,1267.2 C577.7,1266.6 601.5,1266.6 624.7,1267.2 C625.7,1267.2 626.2,1269.1 627.2,1269.1 C653.3,1269.7 680.3,1269.7 706.4,1269.1 C708.1,1269.1 709.6,1267.2 711.3,1267.2 C733.6,1266.6 756.7,1266.6 779.0,1267.2 C780.8,1267.2 782.2,1269.0 784.0,1269.1 C790.1,1269.6 796.3,1268.8 802.4,1269.1 C804.5,1269.2 806.5,1270.2 808.6,1270.3 C812.4,1270.5 816.2,1269.9 820.0,1269.9 C827.3,1269.8 834.9,1270.4 842.2,1269.9 C843.6,1269.8 844.5,1268.2 845.9,1268.1 C850.4,1267.8 854.9,1269.2 859.4,1268.9 C861.6,1268.8 863.4,1266.9 865.6,1266.8 C869.3,1266.5 873.0,1268.0 876.7,1267.7 C878.5,1267.6 879.8,1265.7 881.6,1265.6 C895.0,1265.0 908.8,1265.0 922.2,1265.6 C923.6,1265.7 924.5,1267.5 925.9,1267.7 C929.5,1268.3 933.3,1267.8 937.0,1268.1 C941.1,1268.4 945.3,1269.0 949.3,1269.6 C953.0,1270.1 956.7,1271.0 960.4,1271.4 C965.7,1271.9 971.1,1272.1 976.4,1272.3 C981.3,1272.5 986.3,1272.8 991.2,1272.6 C992.5,1272.5 993.6,1271.6 994.9,1271.4 C998.9,1270.9 1003.2,1271.1 1007.2,1270.5 C1008.9,1270.3 1010.4,1269.2 1012.1,1268.9 C1015.4,1268.3 1019.0,1268.3 1022.3,1267.7 C1026.4,1266.9 1030.5,1265.3 1034.6,1264.6 C1039.4,1263.7 1044.5,1263.0 1049.4,1262.8 C1057.1,1262.4 1065.1,1262.2 1072.8,1262.8 C1078.6,1263.2 1084.4,1264.5 1090.0,1265.9 C1096.2,1267.4 1102.4,1269.7 1108.5,1271.4 C1116.6,1273.6 1125.0,1275.9 1133.2,1277.6 C1141.2,1279.2 1149.6,1280.8 1157.8,1281.3 C1161.9,1281.6 1166.1,1280.6 1170.1,1280.0 C1175.8,1279.1 1181.8,1278.6 1187.3,1276.9 C1192.0,1275.5 1196.4,1272.7 1200.9,1270.8 C1204.6,1269.3 1208.6,1268.1 1212.3,1266.5 C1217.2,1264.4 1222.0,1261.5 1227.1,1259.7 C1231.4,1258.2 1236.1,1257.4 1240.6,1256.6 C1244.7,1255.9 1248.9,1255.2 1253.0,1255.1 C1256.6,1255.0 1260.4,1255.5 1264.0,1256.0 C1267.3,1256.4 1270.7,1256.8 1273.9,1257.9 C1278.1,1259.3 1282.3,1261.3 1286.2,1263.4 C1288.8,1264.8 1291.0,1266.9 1293.6,1268.3 C1297.1,1270.2 1301.1,1271.6 1304.7,1273.3 C1308.8,1275.2 1312.8,1277.6 1317.0,1279.4 C1321.0,1281.1 1325.2,1282.3 1329.3,1283.7 C1333.4,1285.1 1337.5,1286.8 1341.6,1288.0 C1344.5,1288.8 1347.6,1289.1 1350.5,1289.9 C1354.0,1290.9 1357.5,1292.4 1360.9,1293.6 C1363.0,1294.3 1365.4,1294.5 1367.2,1295.7 C1369.3,1297.1 1370.7,1299.5 1372.4,1301.4 C1374.9,1304.3 1376.0,1309.6 1379.7,1310.3 C1382.2,1310.8 1382.9,1306.0 1383.4,1303.5 C1384.4,1298.8 1384.0,1293.7 1384.4,1288.9 C1384.8,1283.7 1385.5,1278.4 1386.0,1273.2 C1386.3,1269.7 1386.6,1266.2 1387.0,1262.7 C1387.6,1257.5 1388.5,1252.2 1389.1,1247.0 C1389.5,1243.6 1389.6,1240.0 1390.2,1236.6 C1390.6,1234.4 1391.6,1232.4 1392.3,1230.3" fill="none" stroke="#858585" stroke-width="3.2" stroke-linejoin="round" stroke-linecap="round"/>
<line x1="646.50" y1="945.60" x2="676.50" y2="945.60" stroke="#767676" stroke-width="4.3" stroke-linecap="butt"/>
<line x1="769.50" y1="945.60" x2="799.50" y2="945.60" stroke="#888888" stroke-width="4.3" stroke-linecap="butt"/>
<line x1="890.50" y1="945.60" x2="920.50" y2="945.60" stroke="#858585" stroke-width="4.3" stroke-linecap="butt"/>
<line x1="646.50" y1="1789.70" x2="676.50" y2="1789.70" stroke="#767676" stroke-width="4.3" stroke-linecap="butt"/>
<line x1="769.50" y1="1789.70" x2="799.50" y2="1789.70" stroke="#888888" stroke-width="4.3" stroke-linecap="butt"/>
<line x1="890.50" y1="1789.70" x2="920.50" y2="1789.70" stroke="#858585" stroke-width="4.3" stroke-linecap="butt"/>
<defs><mask id="no1" maskUnits="userSpaceOnUse" x="0" y="0" width="1654" height="2339"><rect width="1654" height="2339" fill="#fff"/><rect x="131.05" y="469.90" width="11.88" height="26.25" fill="#000"/><rect x="214.00" y="469.90" width="11.88" height="26.25" fill="#000"/><rect x="131.05" y="517.90" width="11.88" height="26.25" fill="#000"/><rect x="214.00" y="517.90" width="11.88" height="26.25" fill="#000"/><rect x="131.05" y="706.50" width="11.88" height="26.25" fill="#000"/><rect x="214.00" y="706.50" width="11.88" height="26.25" fill="#000"/><rect x="131.05" y="754.60" width="11.88" height="26.25" fill="#000"/><rect x="214.00" y="754.60" width="11.88" height="26.25" fill="#000"/><rect x="635.50" y="625.30" width="11.88" height="26.25" fill="#000"/><rect x="711.20" y="625.30" width="11.88" height="26.25" fill="#000"/><rect x="787.00" y="625.30" width="11.88" height="26.25" fill="#000"/><rect x="861.60" y="625.30" width="11.88" height="26.25" fill="#000"/><rect x="937.30" y="625.30" width="11.88" height="26.25" fill="#000"/><rect x="128.05" y="1333.80" width="11.88" height="26.25" fill="#000"/><rect x="212.80" y="1333.80" width="11.88" height="26.25" fill="#000"/><rect x="128.05" y="1357.50" width="11.88" height="26.25" fill="#000"/><rect x="212.80" y="1357.50" width="11.88" height="26.25" fill="#000"/><rect x="128.05" y="1381.20" width="11.88" height="26.25" fill="#000"/><rect x="212.80" y="1381.20" width="11.88" height="26.25" fill="#000"/><rect x="128.05" y="1403.20" width="11.88" height="26.25" fill="#000"/><rect x="212.80" y="1403.20" width="11.88" height="26.25" fill="#000"/><rect x="128.05" y="1426.50" width="11.88" height="26.25" fill="#000"/><rect x="212.80" y="1426.50" width="11.88" height="26.25" fill="#000"/><rect x="128.05" y="1655.20" width="11.88" height="26.25" fill="#000"/><rect x="212.80" y="1655.20" width="11.88" height="26.25" fill="#000"/><rect x="128.05" y="1678.70" width="11.88" height="26.25" fill="#000"/><rect x="212.80" y="1678.70" width="11.88" height="26.25" fill="#000"/><rect x="128.05" y="1701.40" width="11.88" height="26.25" fill="#000"/><rect x="212.80" y="1701.40" width="11.88" height="26.25" fill="#000"/><rect x="128.05" y="1725.30" width="11.88" height="26.25" fill="#000"/><rect x="212.80" y="1725.30" width="11.88" height="26.25" fill="#000"/><rect x="128.05" y="1748.60" width="11.88" height="26.25" fill="#000"/><rect x="212.80" y="1748.60" width="11.88" height="26.25" fill="#000"/><rect x="635.50" y="1552.00" width="11.88" height="26.25" fill="#000"/><rect x="711.80" y="1552.00" width="11.88" height="26.25" fill="#000"/><rect x="788.10" y="1552.00" width="11.88" height="26.25" fill="#000"/><rect x="862.90" y="1552.00" width="11.88" height="26.25" fill="#000"/><rect x="939.60" y="1552.00" width="11.88" height="26.25" fill="#000"/><rect x="739.58" y="940.30" width="10.38" height="22.88" fill="#000"/><rect x="851.70" y="940.30" width="10.38" height="22.88" fill="#000"/><rect x="972.40" y="940.30" width="10.38" height="22.88" fill="#000"/><rect x="739.58" y="1784.40" width="10.38" height="22.88" fill="#000"/><rect x="851.70" y="1784.40" width="10.38" height="22.88" fill="#000"/><rect x="972.40" y="1784.40" width="10.38" height="22.88" fill="#000"/><rect x="1442.49" y="2110.80" width="14.10" height="31.25" fill="#000"/></mask></defs>
<g mask="url(#no1)">
<text x="1455.50" y="177.30" font-size="27.6" text-anchor="end" font-weight="bold">ГОСТ Р 70609—2022</text>
<text x="166.30" y="300.40" font-size="21" text-anchor="end" >350</text>
<text x="243.40" y="300.40" font-size="21" text-anchor="end" >3,5</text>
<text x="166.30" y="348.20" font-size="21" text-anchor="end" >300</text>
<text x="243.40" y="348.20" font-size="21" text-anchor="end" >3,0</text>
<text x="166.30" y="395.20" font-size="21" text-anchor="end" >250</text>
<text x="243.40" y="395.20" font-size="21" text-anchor="end" >2,5</text>
<text x="166.30" y="443.70" font-size="21" text-anchor="end" >200</text>
<text x="243.40" y="443.70" font-size="21" text-anchor="end" >2,0</text>
<text x="166.30" y="585.90" font-size="21" text-anchor="end" >50</text>
<text x="243.40" y="585.90" font-size="21" text-anchor="end" >0,5</text>
<text x="166.30" y="633.50" font-size="21" text-anchor="end" >0</text>
<text x="243.40" y="633.50" font-size="21" text-anchor="end" >0</text>
<text x="166.30" y="680.40" font-size="21" text-anchor="end" >-50</text>
<text x="243.40" y="680.40" font-size="21" text-anchor="end" >-0,5</text>
<text x="166.30" y="822.90" font-size="21" text-anchor="end" >-200</text>
<text x="243.40" y="822.90" font-size="21" text-anchor="end" >-2,0</text>
<text x="166.30" y="870.70" font-size="21" text-anchor="end" >-250</text>
<text x="243.40" y="870.70" font-size="21" text-anchor="end" >-2,5</text>
<text x="166.30" y="918.50" font-size="21" text-anchor="end" >-300</text>
<text x="243.40" y="918.50" font-size="21" text-anchor="end" >-3,0</text>
<text x="258.90" y="646.30" font-size="21" text-anchor="start" >0</text>
<text x="333.90" y="646.30" font-size="21" text-anchor="start" >2</text>
<text x="409.80" y="646.30" font-size="21" text-anchor="start" >4</text>
<text x="485.50" y="646.30" font-size="21" text-anchor="start" >6</text>
<text x="560.00" y="646.30" font-size="21" text-anchor="start" >8</text>
<text x="1013.30" y="646.30" font-size="21" text-anchor="start" >20</text>
<text x="1089.00" y="646.30" font-size="21" text-anchor="start" >22</text>
<text x="1163.80" y="646.30" font-size="21" text-anchor="start" >24</text>
<text x="1239.30" y="646.30" font-size="21" text-anchor="start" >26</text>
<text x="1315.20" y="646.30" font-size="21" text-anchor="start" >28</text>
<text x="1393.00" y="646.30" font-size="21" text-anchor="start" >30</text>
<text x="1423.10" y="646.30" font-size="21" text-anchor="start" font-style="italic">t</text>
<text x="1428.20" y="646.30" font-size="21" text-anchor="start" >,</text>
<text x="1440.10" y="646.30" font-size="21" text-anchor="start" >с</text>
<text x="153.00" y="251.10" font-size="21" text-anchor="middle" ><tspan font-style="italic">U</tspan>,</text>
<text x="153.00" y="274.30" font-size="21" text-anchor="middle" >кВ</text>
<text x="222.00" y="251.10" font-size="21" text-anchor="middle" ><tspan font-style="italic">P</tspan>,</text>
<text x="222.00" y="274.30" font-size="21" text-anchor="middle" >ГВт</text>
<text x="163.30" y="1146.70" font-size="21" text-anchor="end" >360</text>
<text x="242.20" y="1146.70" font-size="21" text-anchor="end" >3,6</text>
<text x="163.30" y="1170.70" font-size="21" text-anchor="end" >340</text>
<text x="242.20" y="1170.70" font-size="21" text-anchor="end" >3,4</text>
<text x="163.30" y="1194.00" font-size="21" text-anchor="end" >320</text>
<text x="242.20" y="1194.00" font-size="21" text-anchor="end" >3,2</text>
<text x="163.30" y="1216.70" font-size="21" text-anchor="end" >300</text>
<text x="242.20" y="1216.70" font-size="21" text-anchor="end" >3,0</text>
<text x="163.30" y="1240.00" font-size="21" text-anchor="end" >280</text>
<text x="242.20" y="1240.00" font-size="21" text-anchor="end" >2,8</text>
<text x="163.30" y="1262.30" font-size="21" text-anchor="end" >260</text>
<text x="242.20" y="1262.30" font-size="21" text-anchor="end" >2,6</text>
<text x="163.30" y="1286.00" font-size="21" text-anchor="end" >240</text>
<text x="242.20" y="1286.00" font-size="21" text-anchor="end" >2,4</text>
<text x="163.30" y="1308.90" font-size="21" text-anchor="end" >220</text>
<text x="242.20" y="1308.90" font-size="21" text-anchor="end" >2,2</text>
<text x="163.30" y="1332.50" font-size="21" text-anchor="end" >200</text>
<text x="242.20" y="1332.50" font-size="21" text-anchor="end" >2,0</text>
<text x="163.30" y="1469.50" font-size="21" text-anchor="end" >80</text>
<text x="242.20" y="1469.50" font-size="21" text-anchor="end" >0,8</text>
<text x="163.30" y="1493.10" font-size="21" text-anchor="end" >60</text>
<text x="242.20" y="1493.10" font-size="21" text-anchor="end" >0,6</text>
<text x="163.30" y="1515.80" font-size="21" text-anchor="end" >40</text>
<text x="242.20" y="1515.80" font-size="21" text-anchor="end" >0,4</text>
<text x="163.30" y="1539.40" font-size="21" text-anchor="end" >20</text>
<text x="242.20" y="1539.40" font-size="21" text-anchor="end" >0,2</text>
<text x="163.30" y="1561.80" font-size="21" text-anchor="end" >0</text>
<text x="242.20" y="1561.80" font-size="21" text-anchor="end" >0</text>
<text x="163.30" y="1583.90" font-size="21" text-anchor="end" >-20</text>
<text x="242.20" y="1583.90" font-size="21" text-anchor="end" >-0,2</text>
<text x="163.30" y="1607.40" font-size="21" text-anchor="end" >-40</text>
<text x="242.20" y="1607.40" font-size="21" text-anchor="end" >-0,4</text>
<text x="163.30" y="1630.10" font-size="21" text-anchor="end" >-60</text>
<text x="242.20" y="1630.10" font-size="21" text-anchor="end" >-0,6</text>
<text x="163.30" y="1654.00" font-size="21" text-anchor="end" >-80</text>
<text x="242.20" y="1654.00" font-size="21" text-anchor="end" >-0,8</text>
<text x="256.70" y="1573.00" font-size="21" text-anchor="start" >0</text>
<text x="331.90" y="1573.00" font-size="21" text-anchor="start" >2</text>
<text x="407.60" y="1573.00" font-size="21" text-anchor="start" >4</text>
<text x="484.30" y="1573.00" font-size="21" text-anchor="start" >6</text>
<text x="559.20" y="1573.00" font-size="21" text-anchor="start" >8</text>
<text x="1016.10" y="1573.00" font-size="21" text-anchor="start" >20</text>
<text x="1092.80" y="1573.00" font-size="21" text-anchor="start" >22</text>
<text x="1167.80" y="1573.00" font-size="21" text-anchor="start" >24</text>
<text x="1244.00" y="1573.00" font-size="21" text-anchor="start" >26</text>
<text x="1320.40" y="1573.00" font-size="21" text-anchor="start" >28</text>
<text x="1396.70" y="1573.00" font-size="21" text-anchor="start" >30</text>
<text x="1424.80" y="1573.00" font-size="21" text-anchor="start" font-style="italic">t</text>
<text x="1429.70" y="1573.00" font-size="21" text-anchor="start" >,</text>
<text x="1441.80" y="1573.00" font-size="21" text-anchor="start" >с</text>
<text x="151.50" y="1094.20" font-size="21" text-anchor="middle" ><tspan font-style="italic">U</tspan>,</text>
<text x="150.70" y="1117.90" font-size="21" text-anchor="middle" >кВ</text>
<text x="220.50" y="1096.70" font-size="21" text-anchor="middle" ><tspan font-style="italic">P</tspan>,</text>
<text x="220.70" y="1119.80" font-size="21" text-anchor="middle" >ГВт</text>
<text x="684.00" y="951.70" font-size="22.5" text-anchor="start" >–</text>
<text x="707.80" y="951.70" font-size="22.5" text-anchor="start" font-style="italic">P</text>
<text x="750.40" y="951.70" font-size="22.5" text-anchor="start" >;</text>
<text x="810.50" y="951.70" font-size="22.5" text-anchor="start" >–</text>
<text x="834.40" y="951.70" font-size="22.5" text-anchor="start" font-style="italic">U</text>
<text x="871.80" y="951.70" font-size="22.5" text-anchor="start" >;</text>
<text x="932.50" y="951.70" font-size="22.5" text-anchor="start" >–</text>
<text x="956.60" y="951.70" font-size="22.5" text-anchor="start" font-style="italic">P</text>
<text x="684.00" y="1795.80" font-size="22.5" text-anchor="start" >–</text>
<text x="707.80" y="1795.80" font-size="22.5" text-anchor="start" font-style="italic">P</text>
<text x="750.40" y="1795.80" font-size="22.5" text-anchor="start" >;</text>
<text x="810.50" y="1795.80" font-size="22.5" text-anchor="start" >–</text>
<text x="834.40" y="1795.80" font-size="22.5" text-anchor="start" font-style="italic">U</text>
<text x="871.80" y="1795.80" font-size="22.5" text-anchor="start" >;</text>
<text x="932.50" y="1795.80" font-size="22.5" text-anchor="start" >–</text>
<text x="956.60" y="1795.80" font-size="22.5" text-anchor="start" font-style="italic">P</text>
<text x="508.50" y="1006.70" font-size="25" text-anchor="start" >а)</text>
<text x="542.40" y="1006.70" font-size="25" text-anchor="start" >Эффективная работа каналов стабилизации</text>
<text x="495.30" y="1850.30" font-size="25" text-anchor="start" >б)</text>
<text x="529.70" y="1850.30" font-size="25" text-anchor="start" >Неэффективная работа каналов стабилизации</text>
<text x="787.50" y="1898.30" font-size="25" text-anchor="middle" >Рисунок Д.24 — Эффективная и неэффективная работа каналов стабилизации</text>
<text x="787.50" y="1929.70" font-size="25" text-anchor="middle" >(системного стабилизатора)</text>
<text x="188.00" y="2028.40" font-size="25" text-anchor="start" textLength="1268" lengthAdjust="spacing">График, характеризующий корректную работу АРВ сильного действия с обеспечением демпфирования элек-</text>
<text x="118.50" y="2060.60" font-size="25" text-anchor="start" textLength="1337.5" lengthAdjust="spacing">тромеханических переходных процессов и отсутствия взаимного раскачивания синхронных генераторов, приведен</text>
<text x="118.50" y="2093.70" font-size="25" text-anchor="start" >на рисунке Д.25.</text>
<text id="t0" x="166.30" y="490.90" font-size="21" text-anchor="end" >150</text>
<text id="t1" x="243.40" y="490.90" font-size="21" text-anchor="end" >1,5</text>
<text id="t2" x="166.30" y="538.90" font-size="21" text-anchor="end" >100</text>
<text id="t3" x="243.40" y="538.90" font-size="21" text-anchor="end" >1,0</text>
<text id="t4" x="166.30" y="727.50" font-size="21" text-anchor="end" >-100</text>
<text id="t5" x="243.40" y="727.50" font-size="21" text-anchor="end" >-1,0</text>
<text id="t6" x="166.30" y="775.60" font-size="21" text-anchor="end" >-150</text>
<text id="t7" x="243.40" y="775.60" font-size="21" text-anchor="end" >-1,5</text>
<text id="t8" x="635.70" y="646.30" font-size="21" text-anchor="start" >10</text>
<text id="t9" x="711.40" y="646.30" font-size="21" text-anchor="start" >12</text>
<text id="t10" x="787.20" y="646.30" font-size="21" text-anchor="start" >14</text>
<text id="t11" x="861.80" y="646.30" font-size="21" text-anchor="start" >16</text>
<text id="t12" x="937.50" y="646.30" font-size="21" text-anchor="start" >18</text>
<text id="t13" x="163.30" y="1354.80" font-size="21" text-anchor="end" >180</text>
<text id="t14" x="242.20" y="1354.80" font-size="21" text-anchor="end" >1,8</text>
<text id="t15" x="163.30" y="1378.50" font-size="21" text-anchor="end" >160</text>
<text id="t16" x="242.20" y="1378.50" font-size="21" text-anchor="end" >1,6</text>
<text id="t17" x="163.30" y="1402.20" font-size="21" text-anchor="end" >140</text>
<text id="t18" x="242.20" y="1402.20" font-size="21" text-anchor="end" >1,4</text>
<text id="t19" x="163.30" y="1424.20" font-size="21" text-anchor="end" >120</text>
<text id="t20" x="242.20" y="1424.20" font-size="21" text-anchor="end" >1,2</text>
<text id="t21" x="163.30" y="1447.50" font-size="21" text-anchor="end" >100</text>
<text id="t22" x="242.20" y="1447.50" font-size="21" text-anchor="end" >1,0</text>
<text id="t23" x="163.30" y="1676.20" font-size="21" text-anchor="end" >-100</text>
<text id="t24" x="242.20" y="1676.20" font-size="21" text-anchor="end" >-1,0</text>
<text id="t25" x="163.30" y="1699.70" font-size="21" text-anchor="end" >-120</text>
<text id="t26" x="242.20" y="1699.70" font-size="21" text-anchor="end" >-1,2</text>
<text id="t27" x="163.30" y="1722.40" font-size="21" text-anchor="end" >-140</text>
<text id="t28" x="242.20" y="1722.40" font-size="21" text-anchor="end" >-1,4</text>
<text id="t29" x="163.30" y="1746.30" font-size="21" text-anchor="end" >-160</text>
<text id="t30" x="242.20" y="1746.30" font-size="21" text-anchor="end" >-1,6</text>
<text id="t31" x="163.30" y="1769.60" font-size="21" text-anchor="end" >-180</text>
<text id="t32" x="242.20" y="1769.60" font-size="21" text-anchor="end" >-1,8</text>
<text id="t33" x="635.70" y="1573.00" font-size="21" text-anchor="start" >10</text>
<text id="t34" x="712.00" y="1573.00" font-size="21" text-anchor="start" >12</text>
<text id="t35" x="788.30" y="1573.00" font-size="21" text-anchor="start" >14</text>
<text id="t36" x="863.10" y="1573.00" font-size="21" text-anchor="start" >16</text>
<text id="t37" x="939.80" y="1573.00" font-size="21" text-anchor="start" >18</text>
<text id="t38" x="723.80" y="958.60" font-size="18.3" text-anchor="start" >Г-1</text>
<text id="t39" x="851.90" y="958.60" font-size="18.3" text-anchor="start" >1b</text>
<text id="t40" x="972.60" y="958.60" font-size="18.3" text-anchor="start" >1-3</text>
<text id="t41" x="723.80" y="1802.70" font-size="18.3" text-anchor="start" >Г-1</text>
<text id="t42" x="851.90" y="1802.70" font-size="18.3" text-anchor="start" >1b</text>
<text id="t43" x="972.60" y="1802.70" font-size="18.3" text-anchor="start" >1-3</text>
<text id="t44" x="1428.80" y="2135.80" font-size="25" text-anchor="start" >91</text>
</g>
<path transform="translate(131.25,490.90) scale(0.01025,-0.00984)" d="M763,0L583,0L583,1147Q518,1085 412,1023Q306,961 223,930L223,1104Q374,1175 487,1276Q600,1377 647,1472L763,1472Z" fill="#1c1c1c"/>
<path transform="translate(214.20,490.90) scale(0.01025,-0.00984)" d="M763,0L583,0L583,1147Q518,1085 412,1023Q306,961 223,930L223,1104Q374,1175 487,1276Q600,1377 647,1472L763,1472Z" fill="#1c1c1c"/>
<path transform="translate(131.25,538.90) scale(0.01025,-0.00984)" d="M763,0L583,0L583,1147Q518,1085 412,1023Q306,961 223,930L223,1104Q374,1175 487,1276Q600,1377 647,1472L763,1472Z" fill="#1c1c1c"/>
<path transform="translate(214.20,538.90) scale(0.01025,-0.00984)" d="M763,0L583,0L583,1147Q518,1085 412,1023Q306,961 223,930L223,1104Q374,1175 487,1276Q600,1377 647,1472L763,1472Z" fill="#1c1c1c"/>
<path transform="translate(131.25,727.50) scale(0.01025,-0.00984)" d="M763,0L583,0L583,1147Q518,1085 412,1023Q306,961 223,930L223,1104Q374,1175 487,1276Q600,1377 647,1472L763,1472Z" fill="#1c1c1c"/>
<path transform="translate(214.20,727.50) scale(0.01025,-0.00984)" d="M763,0L583,0L583,1147Q518,1085 412,1023Q306,961 223,930L223,1104Q374,1175 487,1276Q600,1377 647,1472L763,1472Z" fill="#1c1c1c"/>
<path transform="translate(131.25,775.60) scale(0.01025,-0.00984)" d="M763,0L583,0L583,1147Q518,1085 412,1023Q306,961 223,930L223,1104Q374,1175 487,1276Q600,1377 647,1472L763,1472Z" fill="#1c1c1c"/>
<path transform="translate(214.20,775.60) scale(0.01025,-0.00984)" d="M763,0L583,0L583,1147Q518,1085 412,1023Q306,961 223,930L223,1104Q374,1175 487,1276Q600,1377 647,1472L763,1472Z" fill="#1c1c1c"/>
<path transform="translate(635.70,646.30) scale(0.01025,-0.00984)" d="M763,0L583,0L583,1147Q518,1085 412,1023Q306,961 223,930L223,1104Q374,1175 487,1276Q600,1377 647,1472L763,1472Z" fill="#1c1c1c"/>
<path transform="translate(711.40,646.30) scale(0.01025,-0.00984)" d="M763,0L583,0L583,1147Q518,1085 412,1023Q306,961 223,930L223,1104Q374,1175 487,1276Q600,1377 647,1472L763,1472Z" fill="#1c1c1c"/>
<path transform="translate(787.20,646.30) scale(0.01025,-0.00984)" d="M763,0L583,0L583,1147Q518,1085 412,1023Q306,961 223,930L223,1104Q374,1175 487,1276Q600,1377 647,1472L763,1472Z" fill="#1c1c1c"/>
<path transform="translate(861.80,646.30) scale(0.01025,-0.00984)" d="M763,0L583,0L583,1147Q518,1085 412,1023Q306,961 223,930L223,1104Q374,1175 487,1276Q600,1377 647,1472L763,1472Z" fill="#1c1c1c"/>
<path transform="translate(937.50,646.30) scale(0.01025,-0.00984)" d="M763,0L583,0L583,1147Q518,1085 412,1023Q306,961 223,930L223,1104Q374,1175 487,1276Q600,1377 647,1472L763,1472Z" fill="#1c1c1c"/>
<path transform="translate(128.25,1354.80) scale(0.01025,-0.00984)" d="M763,0L583,0L583,1147Q518,1085 412,1023Q306,961 223,930L223,1104Q374,1175 487,1276Q600,1377 647,1472L763,1472Z" fill="#1c1c1c"/>
<path transform="translate(213.00,1354.80) scale(0.01025,-0.00984)" d="M763,0L583,0L583,1147Q518,1085 412,1023Q306,961 223,930L223,1104Q374,1175 487,1276Q600,1377 647,1472L763,1472Z" fill="#1c1c1c"/>
<path transform="translate(128.25,1378.50) scale(0.01025,-0.00984)" d="M763,0L583,0L583,1147Q518,1085 412,1023Q306,961 223,930L223,1104Q374,1175 487,1276Q600,1377 647,1472L763,1472Z" fill="#1c1c1c"/>
<path transform="translate(213.00,1378.50) scale(0.01025,-0.00984)" d="M763,0L583,0L583,1147Q518,1085 412,1023Q306,961 223,930L223,1104Q374,1175 487,1276Q600,1377 647,1472L763,1472Z" fill="#1c1c1c"/>
<path transform="translate(128.25,1402.20) scale(0.01025,-0.00984)" d="M763,0L583,0L583,1147Q518,1085 412,1023Q306,961 223,930L223,1104Q374,1175 487,1276Q600,1377 647,1472L763,1472Z" fill="#1c1c1c"/>
<path transform="translate(213.00,1402.20) scale(0.01025,-0.00984)" d="M763,0L583,0L583,1147Q518,1085 412,1023Q306,961 223,930L223,1104Q374,1175 487,1276Q600,1377 647,1472L763,1472Z" fill="#1c1c1c"/>
<path transform="translate(128.25,1424.20) scale(0.01025,-0.00984)" d="M763,0L583,0L583,1147Q518,1085 412,1023Q306,961 223,930L223,1104Q374,1175 487,1276Q600,1377 647,1472L763,1472Z" fill="#1c1c1c"/>
<path transform="translate(213.00,1424.20) scale(0.01025,-0.00984)" d="M763,0L583,0L583,1147Q518,1085 412,1023Q306,961 223,930L223,1104Q374,1175 487,1276Q600,1377 647,1472L763,1472Z" fill="#1c1c1c"/>
<path transform="translate(128.25,1447.50) scale(0.01025,-0.00984)" d="M763,0L583,0L583,1147Q518,1085 412,1023Q306,961 223,930L223,1104Q374,1175 487,1276Q600,1377 647,1472L763,1472Z" fill="#1c1c1c"/>
<path transform="translate(213.00,1447.50) scale(0.01025,-0.00984)" d="M763,0L583,0L583,1147Q518,1085 412,1023Q306,961 223,930L223,1104Q374,1175 487,1276Q600,1377 647,1472L763,1472Z" fill="#1c1c1c"/>
<path transform="translate(128.25,1676.20) scale(0.01025,-0.00984)" d="M763,0L583,0L583,1147Q518,1085 412,1023Q306,961 223,930L223,1104Q374,1175 487,1276Q600,1377 647,1472L763,1472Z" fill="#1c1c1c"/>
<path transform="translate(213.00,1676.20) scale(0.01025,-0.00984)" d="M763,0L583,0L583,1147Q518,1085 412,1023Q306,961 223,930L223,1104Q374,1175 487,1276Q600,1377 647,1472L763,1472Z" fill="#1c1c1c"/>
<path transform="translate(128.25,1699.70) scale(0.01025,-0.00984)" d="M763,0L583,0L583,1147Q518,1085 412,1023Q306,961 223,930L223,1104Q374,1175 487,1276Q600,1377 647,1472L763,1472Z" fill="#1c1c1c"/>
<path transform="translate(213.00,1699.70) scale(0.01025,-0.00984)" d="M763,0L583,0L583,1147Q518,1085 412,1023Q306,961 223,930L223,1104Q374,1175 487,1276Q600,1377 647,1472L763,1472Z" fill="#1c1c1c"/>
<path transform="translate(128.25,1722.40) scale(0.01025,-0.00984)" d="M763,0L583,0L583,1147Q518,1085 412,1023Q306,961 223,930L223,1104Q374,1175 487,1276Q600,1377 647,1472L763,1472Z" fill="#1c1c1c"/>
<path transform="translate(213.00,1722.40) scale(0.01025,-0.00984)" d="M763,0L583,0L583,1147Q518,1085 412,1023Q306,961 223,930L223,1104Q374,1175 487,1276Q600,1377 647,1472L763,1472Z" fill="#1c1c1c"/>
<path transform="translate(128.25,1746.30) scale(0.01025,-0.00984)" d="M763,0L583,0L583,1147Q518,1085 412,1023Q306,961 223,930L223,1104Q374,1175 487,1276Q600,1377 647,1472L763,1472Z" fill="#1c1c1c"/>
<path transform="translate(213.00,1746.30) scale(0.01025,-0.00984)" d="M763,0L583,0L583,1147Q518,1085 412,1023Q306,961 223,930L223,1104Q374,1175 487,1276Q600,1377 647,1472L763,1472Z" fill="#1c1c1c"/>
<path transform="translate(128.25,1769.60) scale(0.01025,-0.00984)" d="M763,0L583,0L583,1147Q518,1085 412,1023Q306,961 223,930L223,1104Q374,1175 487,1276Q600,1377 647,1472L763,1472Z" fill="#1c1c1c"/>
<path transform="translate(213.00,1769.60) scale(0.01025,-0.00984)" d="M763,0L583,0L583,1147Q518,1085 412,1023Q306,961 223,930L223,1104Q374,1175 487,1276Q600,1377 647,1472L763,1472Z" fill="#1c1c1c"/>
<path transform="translate(635.70,1573.00) scale(0.01025,-0.00984)" d="M763,0L583,0L583,1147Q518,1085 412,1023Q306,961 223,930L223,1104Q374,1175 487,1276Q600,1377 647,1472L763,1472Z" fill="#1c1c1c"/>
<path transform="translate(712.00,1573.00) scale(0.01025,-0.00984)" d="M763,0L583,0L583,1147Q518,1085 412,1023Q306,961 223,930L223,1104Q374,1175 487,1276Q600,1377 647,1472L763,1472Z" fill="#1c1c1c"/>
<path transform="translate(788.30,1573.00) scale(0.01025,-0.00984)" d="M763,0L583,0L583,1147Q518,1085 412,1023Q306,961 223,930L223,1104Q374,1175 487,1276Q600,1377 647,1472L763,1472Z" fill="#1c1c1c"/>
<path transform="translate(863.10,1573.00) scale(0.01025,-0.00984)" d="M763,0L583,0L583,1147Q518,1085 412,1023Q306,961 223,930L223,1104Q374,1175 487,1276Q600,1377 647,1472L763,1472Z" fill="#1c1c1c"/>
<path transform="translate(939.80,1573.00) scale(0.01025,-0.00984)" d="M763,0L583,0L583,1147Q518,1085 412,1023Q306,961 223,930L223,1104Q374,1175 487,1276Q600,1377 647,1472L763,1472Z" fill="#1c1c1c"/>
<path transform="translate(739.78,958.60) scale(0.00894,-0.00858)" d="M763,0L583,0L583,1147Q518,1085 412,1023Q306,961 223,930L223,1104Q374,1175 487,1276Q600,1377 647,1472L763,1472Z" fill="#1c1c1c"/>
<path transform="translate(851.90,958.60) scale(0.00894,-0.00858)" d="M763,0L583,0L583,1147Q518,1085 412,1023Q306,961 223,930L223,1104Q374,1175 487,1276Q600,1377 647,1472L763,1472Z" fill="#1c1c1c"/>
<path transform="translate(972.60,958.60) scale(0.00894,-0.00858)" d="M763,0L583,0L583,1147Q518,1085 412,1023Q306,961 223,930L223,1104Q374,1175 487,1276Q600,1377 647,1472L763,1472Z" fill="#1c1c1c"/>
<path transform="translate(739.78,1802.70) scale(0.00894,-0.00858)" d="M763,0L583,0L583,1147Q518,1085 412,1023Q306,961 223,930L223,1104Q374,1175 487,1276Q600,1377 647,1472L763,1472Z" fill="#1c1c1c"/>
<path transform="translate(851.90,1802.70) scale(0.00894,-0.00858)" d="M763,0L583,0L583,1147Q518,1085 412,1023Q306,961 223,930L223,1104Q374,1175 487,1276Q600,1377 647,1472L763,1472Z" fill="#1c1c1c"/>
<path transform="translate(972.60,1802.70) scale(0.00894,-0.00858)" d="M763,0L583,0L583,1147Q518,1085 412,1023Q306,961 223,930L223,1104Q374,1175 487,1276Q600,1377 647,1472L763,1472Z" fill="#1c1c1c"/>
<path transform="translate(1442.69,2135.80) scale(0.01221,-0.01172)" d="M763,0L583,0L583,1147Q518,1085 412,1023Q306,961 223,930L223,1104Q374,1175 487,1276Q600,1377 647,1472L763,1472Z" fill="#1c1c1c"/>
</svg>
</body></html>
